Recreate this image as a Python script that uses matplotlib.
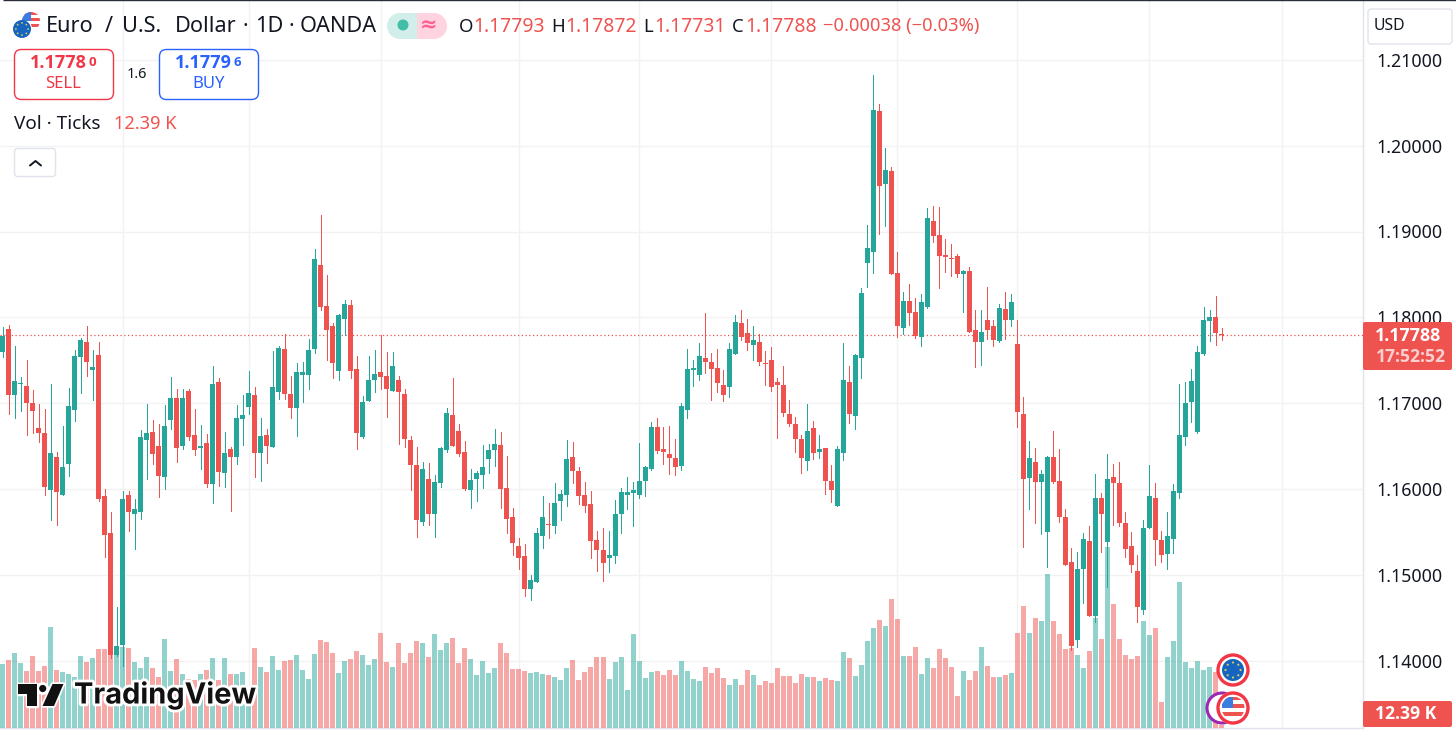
import matplotlib
matplotlib.use('Agg')
import matplotlib.pyplot as plt
import matplotlib.patheffects as pe
from matplotlib.patches import Circle, FancyBboxPatch, Polygon, Rectangle, Wedge
import numpy as np

plt.rcParams['font.family'] = ['Noto Sans', 'DejaVu Sans']

# daily EUR/USD candles, prices in 1e-5
opens = np.array([
    117601,117864,117097,117217,117202,117004,116713,116655,115992,116376,
    115934,116295,116922,117539,117713,117388,117562,115922,115481,114062,
    114178,115934,115702,115736,116574,116667,116504,116143,116806,117062,
    116504,117143,116632,116481,116539,116062,117248,116190,116469,116376,
    116818,116957,117097,116422,116632,116492,117132,117632,117109,116946,
    117329,117329,117632,118609,118132,117899,117376,117981,118143,117399,
    116609,117027,117271,117364,117318,117143,117271,117109,116574,116283,
    115609,116120,115702,116074,116457,116864,116678,116434,115992,116120,
    116167,116353,116457,116516,116015,115678,115329,115213,114829,114911,
    115446,115585,115562,115864,115934,116376,116213,115934,115829,115399,
    115283,115190,115213,115702,115934,115957,115934,116097,116236,116725,
    116469,116411,116364,116271,116922,117388,117329,117527,117481,117411,
    117213,117190,117574,117934,117818,117678,117713,117469,117504,117248,
    117213,116876,116760,116585,116329,116713,116434,116481,116097,115806,
    116422,117248,116853,117527,118632,118760,120399,119550,119702,118516,
    117876,118190,118062,117771,118120,119120,118957,118725,118690,118713,
    118504,118539,117853,117713,117969,117899,117725,118097,117969,117690,
    116876,116132,116318,116085,115492,116376,116097,115678,115143,114236,
    115062,115388,114515,115899,115376,116143,116074,115597,115329,115039,
    114585,115539,115899,115399,115236,115411,115957,116609,117015,116667,
    117574,117957,118004,117793]) / 1e5
highs = np.array([
    117892,117911,117667,117306,117504,117155,116992,116934,117225,116434,
    116736,117178,117620,117760,117899,117620,117713,116004,115736,114620,
    115981,115981,115888,116690,116992,116806,116760,116981,117306,117167,
    117167,117167,116934,116748,116643,117434,117295,116667,116492,116981,
    117097,117376,117190,116829,116702,117609,117667,117806,117318,117469,
    117481,117748,118795,119190,118492,117934,118039,118202,118202,117550,
    117085,117550,117620,117795,117597,117597,117318,117167,116620,116492,
    116318,116306,116167,116492,116946,117295,116760,116562,116236,116213,
    116516,116527,116702,116667,116388,115783,115422,115353,114992,115539,
    115922,115841,116074,115992,116574,116550,116260,116085,115981,115515,
    115539,115515,115876,116015,116143,116085,116539,116271,116783,116829,
    116725,116736,116585,117004,117632,117504,117702,118050,117585,117632,
    117388,117702,118027,118085,117981,117899,117806,117609,117655,117295,
    117434,117039,116841,116632,116992,116795,116632,116481,116283,116504,
    117702,117434,117574,118341,119074,120829,120481,119969,119748,118760,
    118295,118388,118225,118271,119271,119295,119283,118911,118853,118736,
    118550,118585,118085,118085,118353,117969,118155,118295,118271,117969,
    117074,116562,116481,116225,116388,116678,116469,115760,115306,115260,
    115481,115562,116178,115957,116411,116295,116318,115736,115492,115225,
    115643,116283,116074,115504,115725,116062,117225,117248,117399,117667,
    118120,118085,118248,117872]) / 1e5
lows = np.array([
    117543,116876,116829,116911,116632,116655,116550,115934,115632,115585,
    115934,116155,116795,117120,117318,117039,115864,115202,114027,114050,
    113934,115504,115295,115655,116120,116295,115911,116004,116702,116318,
    116469,116574,116399,116236,116027,115841,116039,116027,115748,116295,
    116516,116876,116143,116097,116306,116492,117050,117050,116829,116620,
    117015,117167,117585,118085,117504,117295,117271,117795,117295,116469,
    116597,117027,117132,117167,116841,117143,116527,116492,115992,115434,
    115585,115585,115434,116027,116434,116504,116388,115992,115783,115864,
    116015,116190,116271,115783,115481,115225,115062,114748,114702,114911,
    115306,115422,115481,115643,115806,116074,115829,115725,115190,115039,
    114922,115027,115132,115481,115771,115562,115899,115922,116225,116422,
    116295,116178,116167,116225,116829,117202,117271,117353,117039,117132,
    117027,117074,117574,117736,117620,117504,117446,117213,117143,116597,
    116853,116736,116434,116190,116225,116353,116364,115946,115853,115795,
    116341,116771,116702,117295,118353,118516,118969,119062,118504,117771,
    117806,117911,117760,117667,118109,118876,118341,118527,118481,118469,
    118062,117829,117422,117446,117748,117667,117713,117748,117899,116725,
    115318,115760,115597,115469,115085,116074,115620,115109,114120,114155,
    114667,114515,114446,115260,114853,115585,115562,115202,115027,114446,
    114539,115539,115109,115143,115062,115248,115899,116516,116783,116655,
    117562,117725,117678,117731]) / 1e5
closes = np.array([
    117787,117089,117260,117225,117004,116911,116655,116027,116422,115969,
    116260,116969,117550,117736,117481,117422,115888,115457,114062,114167,
    115888,115725,115760,116609,116655,116411,116155,116736,117062,116481,
    117062,116609,116457,116504,116062,117225,116202,116422,116376,116829,
    116864,117120,116422,116620,116504,117190,117643,117109,116946,117364,
    117364,117620,118678,118120,117853,117469,118027,118155,117376,116655,
    117015,117271,117341,117306,117167,117434,117132,116585,116283,115643,
    116236,115702,116085,116481,116888,116504,116411,116004,116109,116190,
    116260,116457,116527,116004,115655,115364,115190,114829,114934,115481,
    115678,115577,115841,115946,116353,116213,115922,115806,115388,115283,
    115132,115225,115713,115969,115969,115992,116097,116260,116725,116446,
    116434,116364,116260,116969,117399,117411,117550,117481,117399,117236,
    117097,117632,117946,117771,117702,117736,117481,117461,117190,117213,
    116888,116760,116585,116364,116678,116422,116469,116097,115992,116469,
    117271,116876,117562,118283,118806,120411,119527,119713,118504,117899,
    118190,118050,117783,118178,119155,118946,118713,118702,118678,118504,
    118539,117829,117713,117829,117853,117736,118109,117969,118178,116899,
    116120,116364,116085,116178,116376,116085,115667,115109,114167,115062,
    115411,114515,115899,115713,116120,116074,115597,115295,115109,114620,
    115539,115922,115399,115225,115446,115981,116632,117004,117260,117597,
    117969,118004,117818,117788]) / 1e5

# tick volume in thousands
volumes = np.array([
    320,340,375,325,285,360,285,310,505,290,
    280,270,255,360,330,350,395,395,400,400,
    405,400,330,300,355,300,255,445,285,345,
    270,245,240,270,290,350,240,350,270,270,
    280,185,400,305,280,360,290,335,340,365,
    290,245,370,440,430,375,275,335,345,385,
    365,315,345,475,330,305,425,325,375,435,
    425,355,470,390,425,450,325,400,345,265,
    335,275,300,425,375,295,295,285,275,280,
    270,265,255,240,300,340,240,280,305,355,
    355,245,330,355,190,470,335,250,280,285,
    265,290,265,335,285,245,235,305,275,300,
    250,215,245,215,290,265,215,235,225,300,
    260,260,225,270,255,255,235,250,240,235,
    380,350,260,315,435,500,540,510,645,545,
    360,360,405,270,350,300,395,350,305,160,
    285,240,285,405,310,255,255,265,275,475,
    610,475,550,535,770,535,470,395,400,365,
    300,385,550,445,905,620,445,365,345,360,
    535,465,500,130,355,435,730,330,300,335,
    290,305,280,12.39])

price_ticks = [1.14, 1.15, 1.16, 1.17, 1.18, 1.19, 1.20, 1.21]
month_ticks = [20, 41, 63, 86, 106, 128, 149, 169, 191, 213]
last_price = 1.17788

GREEN = '#26a69a'
RED = '#ef5350'
DARK = '#131722'
GRID = '#f2f2f3'
BORDER = '#e0e3eb'
BOLD = ['Open Sans', 'Liberation Sans']

W, H = 1456, 734
PANE_R, PANE_B = 1362.5, 727.5

fig = plt.figure(figsize=(W / 100, H / 100), dpi=100, facecolor='white')
rect = [0, 1 - PANE_B / H, PANE_R / W, PANE_B / H]

n = len(closes)
idx = np.arange(n)
xlim = (-2.5 / 6.005, (PANE_R - 2.5) / 6.005)
ylim = (1.19 - (PANE_B - 231.5) / 8580, 1.19 + 231.5 / 8580)

# grid and price scale
ax_bg = fig.add_axes(rect, zorder=1)
ax_bg.set_xlim(xlim)
ax_bg.set_ylim(ylim)
ax_bg.set_yticks(price_ticks)
ax_bg.set_yticklabels(['%.5f' % p for p in price_ticks], fontsize=12.8, color=DARK)
ax_bg.set_xticks(month_ticks)
ax_bg.tick_params(axis='y', left=False, right=False, labelleft=False, labelright=True, length=0, pad=9.7)
ax_bg.tick_params(axis='x', bottom=False, labelbottom=False, length=0)
ax_bg.grid(True, color=GRID, lw=1.0)
ax_bg.set_axisbelow(True)
for side in ['top', 'left']:
    ax_bg.spines[side].set_visible(False)
for side in ['right', 'bottom']:
    ax_bg.spines[side].set_color(BORDER)
    ax_bg.spines[side].set_linewidth(1.0)

# volume pane
ax_vol = fig.add_axes(rect, zorder=2)
ax_vol.patch.set_alpha(0)
ax_vol.set_xlim(xlim)
ax_vol.set_ylim(0, PANE_B * 5)
ax_vol.axis('off')
up = closes >= opens
vol_colors = [GREEN if u else RED for u in up]
ax_vol.bar(idx, volumes, width=5 / 6.005, color=vol_colors, alpha=0.5, linewidth=0)

# candles
ax = fig.add_axes(rect, zorder=3)
ax.patch.set_alpha(0)
ax.set_xlim(xlim)
ax.set_ylim(ylim)
ax.axis('off')
ax.axhline(last_price, color=RED, lw=0.9, ls=(0, (1, 2)), zorder=1)
ax.vlines(idx, lows, highs, colors=vol_colors, lw=0.72, antialiased=False, zorder=2)
bottoms = np.minimum(opens, closes)
heights = np.maximum(np.abs(closes - opens), 0.00012)
ax.bar(idx, heights, bottom=bottoms, width=5 / 6.005, color=vol_colors, linewidth=0, zorder=3)

# everything around the chart, in pixel coordinates
ui = fig.add_axes([0, 0, 1, 1], zorder=10)
ui.patch.set_alpha(0)
ui.set_xlim(0, W)
ui.set_ylim(H, 0)
ui.axis('off')


def label(x, y, s, size, color=DARK, ha='left', **kw):
    return ui.text(x, y + 1.5, s, fontsize=size, color=color, ha=ha, va='center', **kw)


def bold(x, y, s, size, color=DARK, ha='left'):
    return label(x, y, s, size, color=color, ha=ha, family=BOLD, fontweight='bold')


def box(x0, y0, x1, y1, r, fc='white', ec='none', lw=1.0):
    p = FancyBboxPatch((x0 + r, y0 + r), x1 - x0 - 2 * r, y1 - y0 - 2 * r,
                       boxstyle='round,pad=%f' % r, fc=fc, ec=ec, lw=lw)
    ui.add_patch(p)
    return p


def eu_flag(cx, cy, r, dot, zorder=5):
    ui.add_patch(Circle((cx, cy), r, fc='#1565c0', ec='none', zorder=zorder))
    for a in np.arange(0, 360, 45):
        x = cx + 0.68 * r * np.cos(np.radians(a))
        y = cy + 0.68 * r * np.sin(np.radians(a))
        ui.add_patch(Circle((x, y), dot, fc='#d8c75a', ec='none', zorder=zorder + 1))


def us_flag(cx, cy, r, zorder=5):
    ui.add_patch(Circle((cx, cy), r, fc='white', ec='none', zorder=zorder))
    clip = Circle((cx, cy), r, transform=ui.transData)
    for k in range(0, 6, 2):
        s = Rectangle((cx - r, cy - r + k * r / 3), 2 * r, r / 3, fc=RED, ec='none', zorder=zorder + 1)
        ui.add_patch(s)
        s.set_clip_path(clip)
    s = Rectangle((cx - r, cy - r), r, r, fc='#3a7de0', ec='none', zorder=zorder + 2)
    ui.add_patch(s)
    s.set_clip_path(clip)


# top edge
ui.plot([3, W], [0.4, 0.4], color='#2a2e39', lw=1.0, solid_capstyle='butt')

# symbol line
us_flag(31, 21, 9)
ui.add_patch(Circle((22, 29), 10, fc='white', ec='none', zorder=6))
eu_flag(22, 29, 9, 0.9, zorder=7)
for x, s in [(46, 'Euro'), (105, '/'), (122, 'U.S.'), (175, 'Dollar'), (243, '·'),
             (255, '1D'), (288, '·'), (300, 'OANDA')]:
    label(x, 25, s, 15.6)

ui.add_patch(Wedge((400, 26), 13, 90, 270, fc='#d1eeea', ec='none'))
ui.add_patch(Rectangle((400, 13), 17, 26, fc='#d1eeea', ec='none'))
ui.add_patch(Rectangle((417, 13), 17, 26, fc='#ffd3e0', ec='none'))
ui.add_patch(Wedge((434, 26), 13, -90, 90, fc='#ffd3e0', ec='none'))
ui.add_patch(Circle((403, 25), 5.5, fc='#42bda8', ec='none'))
label(428.5, 23.5, '≈', 15, color='#fb5f93', ha='center', fontweight='bold', family='DejaVu Sans')

for x, s in [(459, 'O'), (551, 'H'), (643, 'L'), (732, 'C')]:
    label(x, 25, s, 13.4)
for x, s in [(473.5, '1.17793'), (565.5, '1.17872'), (654.5, '1.17731'), (745.5, '1.17788')]:
    label(x, 25, s, 13.9, color=RED)
label(823, 25, '−0.00038 (−0.03%)', 13.2, color=RED)

# USD selector
box(1368, 9, 1452, 44, 3, ec=BORDER)
label(1374, 24.5, 'USD', 11.4)

# sell / buy buttons
box(14.5, 49.5, 113.5, 99.5, 7, ec='#f23645')
box(159.5, 49.5, 258.5, 99.5, 7, ec='#2962ff')
bold(58, 62, '1.1778', 13, color='#f23645', ha='center')
bold(92.5, 61, '0', 9.5, color='#f23645', ha='center')
label(63.5, 82.5, 'SELL', 12, color='#f23645', ha='center')
label(137, 73.5, '1.6', 10.5, ha='center')
bold(203.5, 62, '1.1779', 13, color='#2962ff', ha='center')
bold(237.5, 61, '6', 9.5, color='#2962ff', ha='center')
label(209, 82.5, 'BUY', 12, color='#2962ff', ha='center')

# volume legend
label(14, 122.5, 'Vol · Ticks', 13.6)
label(114, 122.5, '12.39 K', 13.1, color=RED)

# collapse button
box(14.5, 148.5, 55.5, 176.5, 3, ec=BORDER)
ui.plot([30, 35.5, 41], [165.5, 161, 165.5], color=DARK, lw=1.4, solid_capstyle='round')

# price labels
box(1363, 322, 1452, 370, 2, fc=RED)
bold(1408, 334.5, '1.17788', 12.8, color='white', ha='center')
bold(1411, 355.5, '17:52:52', 12.6, color='#fbd0cf', ha='center')
box(1363, 701, 1452, 727, 2, fc=RED)
bold(1406, 712.5, '12.39 K', 12.6, color='white', ha='center')

# TradingView logo
halo = dict(fc='#111111', ec='white', lw=2.5, joinstyle='round', zorder=20)
for poly in [
    [(17.5, 684), (36.5, 684), (36.5, 706), (26.5, 706), (26.5, 694), (17.5, 694)],
    [(52.5, 684), (63.5, 684), (54, 706), (42.5, 706)],
]:
    shape = Polygon(poly, closed=True, **halo)
    ui.add_patch(shape)
    ui.add_patch(Polygon(poly, closed=True, fc='#111111', ec='none', zorder=21))
ui.add_patch(Circle((42.7, 688.5), 5, fc='#111111', ec='white', lw=2, zorder=20))
label(74, 694, 'TradingView', 20.9, color='#111111', fontweight='bold', family='Inter', zorder=22,
      path_effects=[pe.withStroke(linewidth=4, foreground='white')])

# currency badges
ui.add_patch(Circle((1233, 670), 15, fc='white', ec='#f23645', lw=2.4, zorder=8))
eu_flag(1233, 670, 11, 1.1, zorder=9)
ui.add_patch(Circle((1222, 708), 15, fc='white', ec='#9c27b0', lw=2.2, zorder=8))
ui.add_patch(Circle((1233, 708), 16.5, fc='white', ec='none', zorder=9))
ui.add_patch(Circle((1233, 708), 15, fc='white', ec='#f23645', lw=2.4, zorder=10))
us_flag(1233, 708, 11.5, zorder=11)

fig.savefig('out.png', dpi=100)
